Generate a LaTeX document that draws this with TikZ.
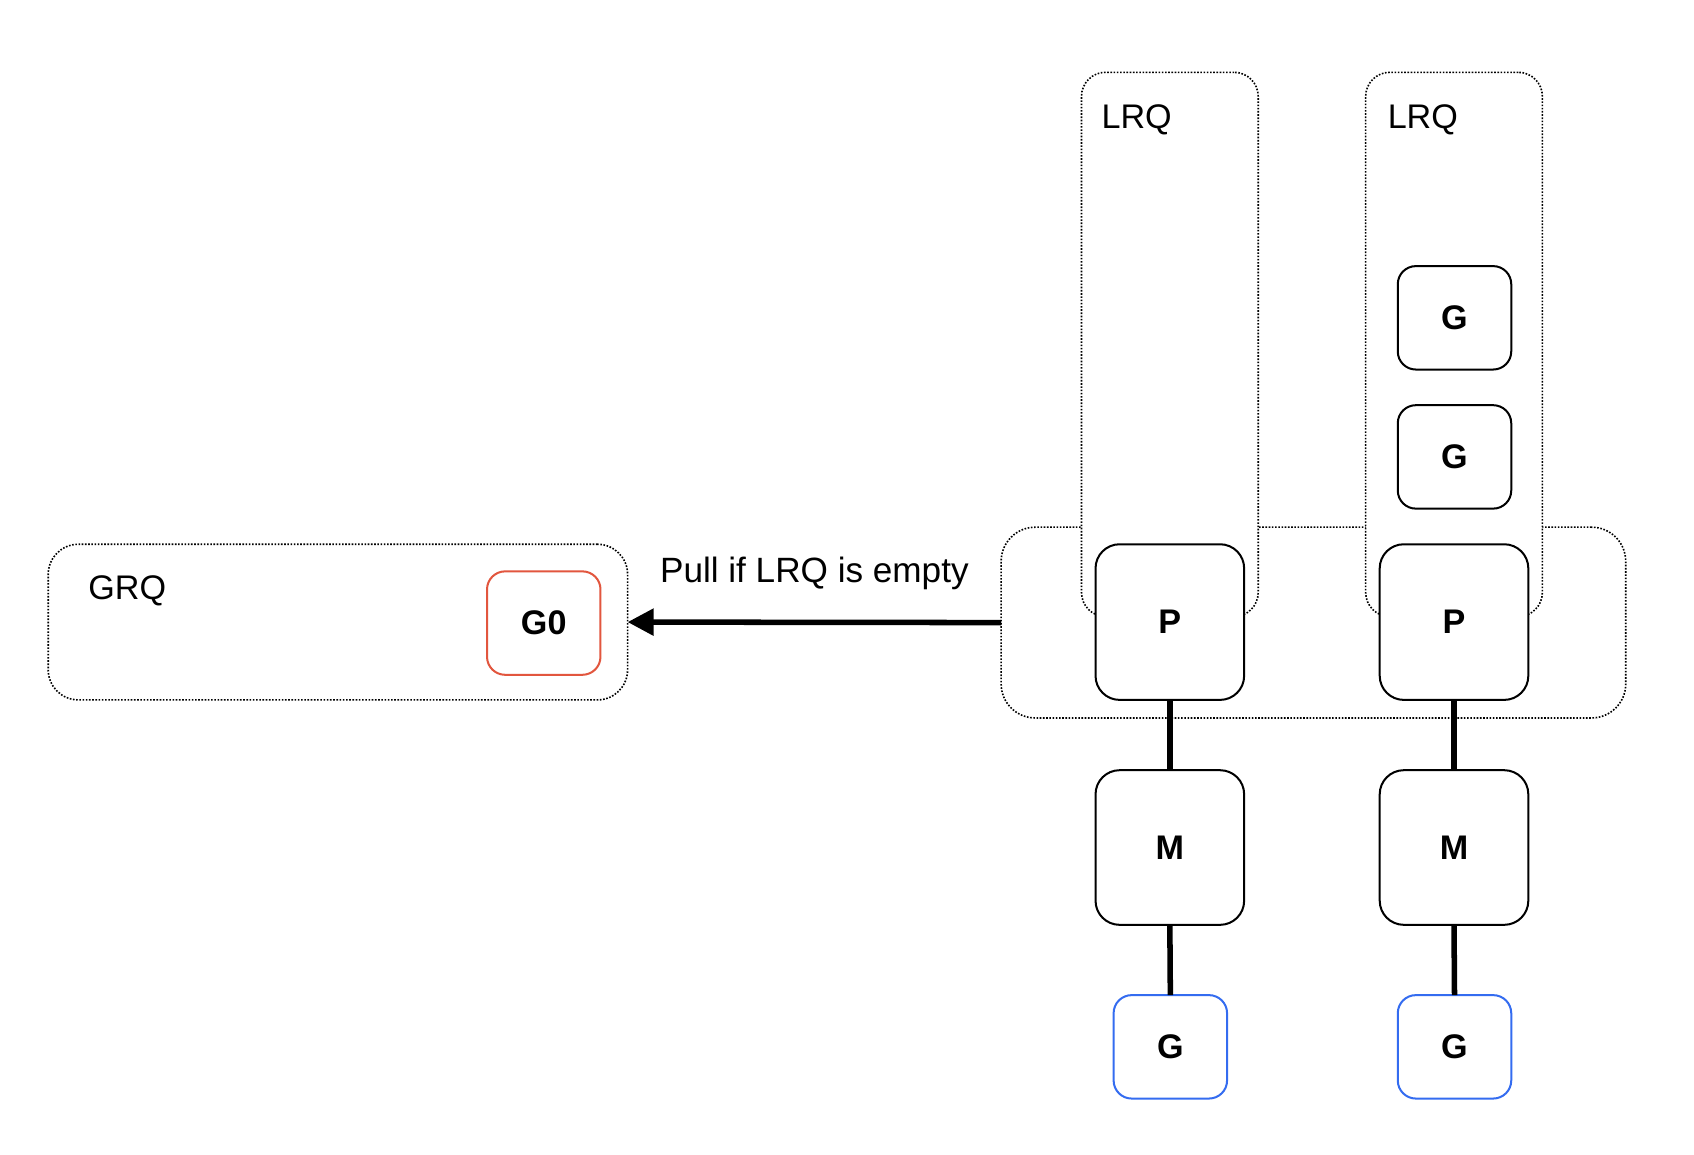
\documentclass[tikz,border=0pt]{standalone}
\usepackage{fontspec}
\setmainfont{Liberation Sans}
\usetikzlibrary{arrows.meta}
\definecolor{gored}{RGB}{226,86,62}
\definecolor{goblue}{RGB}{52,108,240}
\begin{document}
\begin{tikzpicture}[x=1pt,y=-1pt,
  every node/.style={font=\fontsize{34}{40}\selectfont, inner sep=0pt, outer sep=0pt},
  queue/.style={draw, line width=1.6pt, dash pattern=on 1.6pt off 1.6pt, fill=white},
  bigbox/.style={draw, line width=2pt, fill=white, rounded corners=24pt,
    minimum width=148pt, minimum height=155pt, font=\fontsize{34}{40}\selectfont\bfseries},
  gbox/.style={draw, line width=2pt, fill=white, rounded corners=18pt,
    minimum width=113pt, minimum height=103pt, font=\fontsize{34}{40}\selectfont\bfseries},
  link/.style={line width=5.5pt},
]
\useasboundingbox (0,0) rectangle (1687,1149.5);

% global run queue
\node[queue, rounded corners=30pt, minimum width=577pt, minimum height=155pt] (grq) at (336.5,619.5) {};
\node[anchor=west] (grqlabel) at (88,588) {GRQ};
\node[gbox, draw=gored] (g0) at (541.5,620.5) {G0};

% processor group
\node[queue, rounded corners=34pt, minimum width=622pt, minimum height=190pt] (procs) at (1308,620) {};

% local run queues
\node[queue, rounded corners=24pt, minimum width=176pt, minimum height=542pt] (lrq1) at (1165,343) {};
\node[queue, rounded corners=24pt, minimum width=176pt, minimum height=542pt] (lrq2) at (1448,343) {};
\node[anchor=west] (lrq1label) at (1097,119) {LRQ};
\node[anchor=west] (lrq2label) at (1382,119) {LRQ};

\node[gbox] (qg1) at (1448.5,316.5) {G};
\node[gbox] (qg2) at (1448.5,455) {G};

% P, M, G
\node[bigbox] (p1) at (1165,619.5) {P};
\node[bigbox] (p2) at (1448,619.5) {P};
\node[bigbox, minimum height=154pt] (m1) at (1165,844) {M};
\node[bigbox, minimum height=154pt] (m2) at (1448,844) {M};
\node[gbox, draw=goblue] (rg1) at (1165.5,1042.5) {G};
\node[gbox, draw=goblue] (rg2) at (1448.5,1042.5) {G};

\draw[link] (p1.south) -- (m1.north);
\draw[link] (m1.south) -- (rg1.north);
\draw[link] (p2.south) -- (m2.north);
\draw[link] (m2.south) -- (rg2.north);

% pull arrow
\draw[line width=5.5pt, -{Triangle[length=26pt, width=26pt]}] (procs.west) -- (grq.east)
  node[midway, above=32pt, font=\fontsize{35}{40}\selectfont] (pull) {Pull if LRQ is empty};
\end{tikzpicture}
\end{document}
